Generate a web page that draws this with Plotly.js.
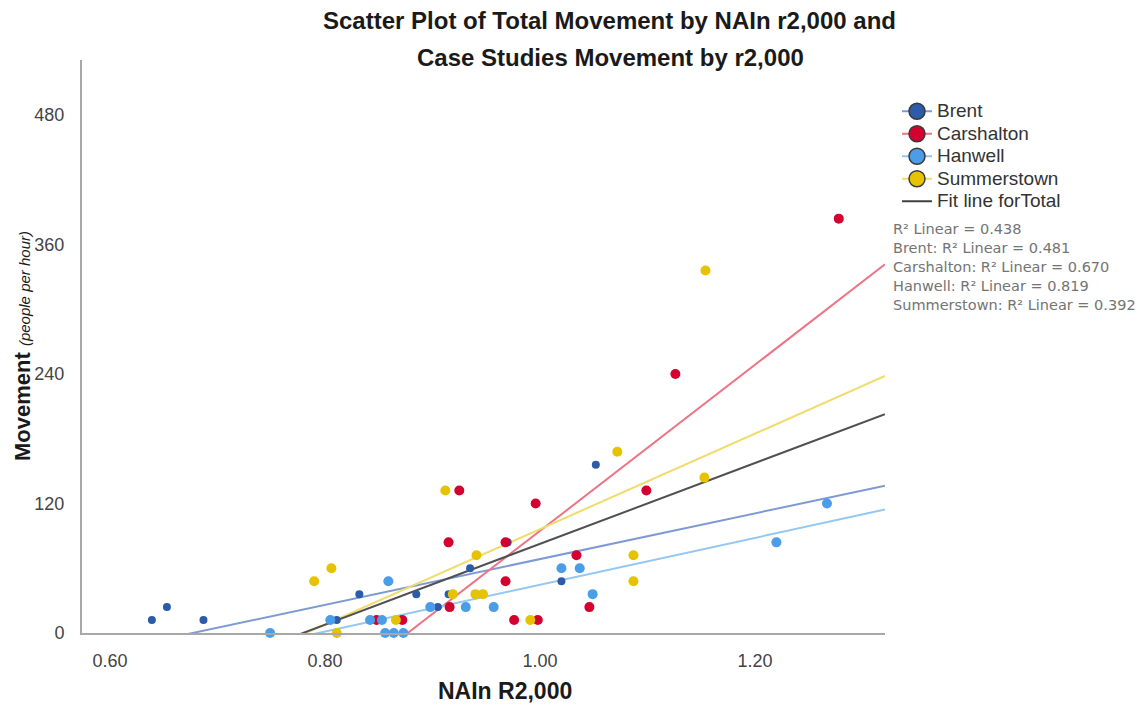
<!DOCTYPE html>
<html>
<head>
<meta charset="utf-8">
<script src="https://cdn.plot.ly/plotly-3.0.1.min.js"></script>
<style>html,body{margin:0;padding:0;background:#fff;}#chart{width:1145px;height:706px;}</style>
</head>
<body>
<div id="chart"></div>
<script>
// ---- data ----
const seriesNames = ['Brent', 'Carshalton', 'Hanwell', 'Summerstown'];
const xBrent = [0.639,0.653,0.687,0.811,0.832,0.856,0.864,0.885,0.905,0.915,0.935,0.970,1.020,1.052];
const yBrent = [12,24,12,12,36,0,0,36,24,36,60,84,48,156];
const xCarshalton = [0.848,0.872,0.915,0.916,0.925,0.968,0.968,0.976,0.996,0.998,1.034,1.046,1.099,1.126,1.278];
const yCarshalton = [12,12,84,24,132,84,48,12,120,12,72,24,132,240,384];
const xHanwell = [0.749,0.805,0.842,0.853,0.856,0.859,0.864,0.873,0.898,0.931,0.957,1.020,1.037,1.049,1.220,1.267];
const yHanwell = [0,12,12,12,0,48,0,0,24,24,24,60,60,36,84,120];
const xSummerstown = [0.790,0.806,0.811,0.866,0.912,0.919,0.940,0.941,0.947,0.991,1.072,1.087,1.087,1.153,1.154];
const ySummerstown = [48,60,0,12,132,36,36,72,36,12,168,72,48,144,336];
const xTickVals = [0.6, 0.8, 1.0, 1.2];
const xTickText = ['0.60', '0.80', '1.00', '1.20'];
const yTickVals = [0, 120, 240, 360, 480];
const yTickText = ['0', '120', '240', '360', '480'];
const rSquaredLabels = [
  'R² Linear = 0.438',
  'Brent: R² Linear = 0.481',
  'Carshalton: R² Linear = 0.670',
  'Hanwell: R² Linear = 0.819',
  'Summerstown: R² Linear = 0.392'
];
const totalFitName = 'Fit line forTotal';

// ---- styling ----
const markerColors = ['#2C5BA9', '#D4002F', '#4A9DE6', '#E6C300'];
const lineColors = ['#7E9AD4', '#EC7485', '#94C7F1', '#F0DC6C'];
const markerSizes = [8, 10, 10, 10];
const xRange = [0.574, 1.321];
const yRange = [0, 531];

const xs = [xBrent, xCarshalton, xHanwell, xSummerstown];
const ys = [yBrent, yCarshalton, yHanwell, ySummerstown];

function fit(x, y) {
  const n = x.length;
  const mx = x.reduce((a, b) => a + b, 0) / n;
  const my = y.reduce((a, b) => a + b, 0) / n;
  let sxy = 0, sxx = 0;
  for (let i = 0; i < n; i++) { sxy += (x[i] - mx) * (y[i] - my); sxx += (x[i] - mx) ** 2; }
  const b = sxy / sxx;
  return { b: b, a: my - b * mx };
}
function fitTrace(x, y, color, name) {
  const f = fit(x, y);
  return {
    type: 'scatter', mode: 'lines', x: xRange.slice(),
    y: xRange.map(v => f.a + f.b * v),
    line: { color: color, width: 2 }, showlegend: false, hoverinfo: 'skip', name: name
  };
}

const traces = [];
const allX = [].concat(...xs), allY = [].concat(...ys);
for (let i = 0; i < 4; i++) traces.push(fitTrace(xs[i], ys[i], lineColors[i], seriesNames[i]));
traces.push(fitTrace(allX, allY, '#505050', totalFitName));
for (let i = 0; i < 4; i++) {
  traces.push({
    type: 'scatter', mode: 'markers', x: xs[i], y: ys[i], name: seriesNames[i],
    marker: { color: markerColors[i], size: markerSizes[i] },
    cliponaxis: false, showlegend: false
  });
}
const legendText = t => '<span style="font-size:19px">' + t + '</span>';
for (let i = 0; i < 4; i++) {
  traces.push({
    type: 'scatter', mode: 'lines+markers', x: [null], y: [null], name: legendText(seriesNames[i]),
    marker: { color: markerColors[i], size: 17, line: { color: '#3a3a3a', width: 1.5 } },
    line: { color: lineColors[i], width: 2 }, showlegend: true
  });
}
traces.push({
  type: 'scatter', mode: 'lines', x: [null], y: [null], name: legendText(totalFitName),
  line: { color: '#404040', width: 2 }, showlegend: true
});

const L = 82, R = 885, T = 60, B = 633;
const W = R - L, H = B - T;
const px = x => (x - L) / W;
const py = y => (B - y) / H;
const FONT = 'Liberation Sans, Arial, sans-serif';

const annotations = [
  { text: '<b>Scatter Plot of Total Movement by NAIn r2,000 and</b>', x: px(609), y: py(20) },
  { text: '<b>Case Studies Movement by r2,000</b>', x: px(610), y: py(57) }
].map(a => Object.assign(a, {
  xref: 'paper', yref: 'paper', xanchor: 'center', yanchor: 'middle', showarrow: false,
  font: { family: FONT, size: 24, color: '#1a1a1a' }
}));
annotations.push({
  text: '<b>NAIn R2,000</b>', x: px(505), y: py(691), xref: 'paper', yref: 'paper',
  xanchor: 'center', yanchor: 'middle', showarrow: false,
  font: { family: FONT, size: 23, color: '#1a1a1a' }
});
annotations.push({
  text: '<b>Movement</b> <i><span style="font-size:15px">(people per hour)</span></i>',
  x: px(22), y: py(346), xref: 'paper', yref: 'paper', textangle: -90,
  xanchor: 'center', yanchor: 'middle', showarrow: false,
  font: { family: FONT, size: 22, color: '#1a1a1a' }
});
rSquaredLabels.forEach((t, i) => annotations.push({
  text: t, x: px(891), y: py(229 + i * 19), xref: 'paper', yref: 'paper',
  xanchor: 'left', yanchor: 'middle', showarrow: false,
  font: { family: 'DejaVu Sans, sans-serif', size: 14.5, color: '#747474' }
}));

const axisCommon = {
  showline: true, linecolor: '#a8a8a8', linewidth: 2, showgrid: false, zeroline: false,
  ticks: 'outside', tickcolor: 'rgba(0,0,0,0)', fixedrange: true,
  tickfont: { family: FONT, size: 18, color: '#444' }
};

const layout = {
  width: 1145, height: 706,
  margin: { l: L, r: 1145 - R, t: T, b: 706 - B },
  paper_bgcolor: '#fff', plot_bgcolor: '#fff',
  showlegend: true,
  legend: {
    x: px(897), y: py(95), xanchor: 'left', yanchor: 'top',
    font: { family: FONT, size: 15, color: '#333' },
    bgcolor: 'rgba(0,0,0,0)', tracegroupgap: 0, itemsizing: 'trace'
  },
  xaxis: Object.assign({}, axisCommon, {
    range: xRange, tickvals: xTickVals, ticktext: xTickText, ticklen: 10
  }),
  yaxis: Object.assign({}, axisCommon, {
    range: yRange, tickvals: yTickVals, ticktext: yTickText, ticklen: 12
  }),
  annotations: annotations
};

Plotly.newPlot('chart', traces, layout, { displayModeBar: false, staticPlot: true });
</script>
</body>
</html>
